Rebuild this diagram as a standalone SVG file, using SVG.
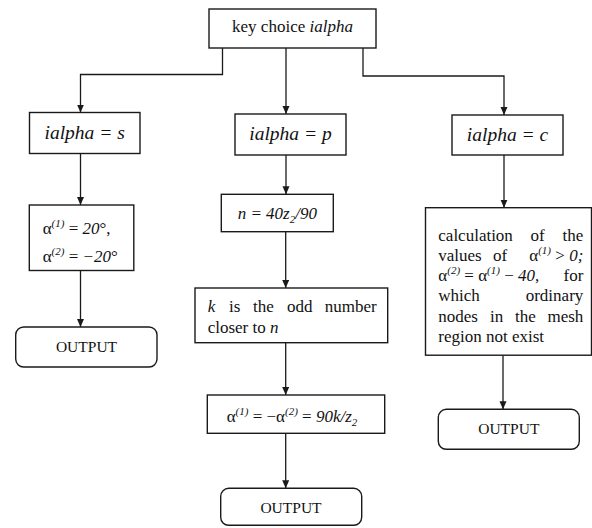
<svg xmlns="http://www.w3.org/2000/svg" width="592" height="528" viewBox="0 0 592 528">
<style>
.box{fill:#fff;stroke:#1a1a1a;stroke-width:1.4}
.ln{fill:none;stroke:#1a1a1a;stroke-width:1.3}
text{font-family:"Liberation Serif","Times New Roman",serif;fill:#111;font-size:17px}
.i{font-style:italic}
.c{text-anchor:middle}
.e{text-anchor:end}
.lab{font-size:19.5px;font-style:italic}
.out{font-size:15.5px}
.sup{font-size:11px;font-style:italic}
</style>
<defs>
<marker id="ah" markerUnits="userSpaceOnUse" markerWidth="8" markerHeight="8" refX="8" refY="3.5" orient="auto">
<path d="M0,0 L8,3.5 L0,7 z" fill="#1a1a1a"/>
</marker>
</defs>
<rect width="592" height="528" fill="#fff"/>
<g id="connectors">
<path class="ln" d="M222.5,48 V74.5 H80.5 V112.5" marker-end="url(#ah)"/>
<path class="ln" d="M286,48 V114" marker-end="url(#ah)"/>
<path class="ln" d="M363,48 V76 H504 V115" marker-end="url(#ah)"/>
<path class="ln" d="M80.5,153.5 V205" marker-end="url(#ah)"/>
<path class="ln" d="M80.5,270.5 V327" marker-end="url(#ah)"/>
<path class="ln" d="M286,155 V194.3" marker-end="url(#ah)"/>
<path class="ln" d="M285.7,231.7 V288" marker-end="url(#ah)"/>
<path class="ln" d="M285.7,342.7 V395" marker-end="url(#ah)"/>
<path class="ln" d="M285.7,433.3 V488.3" marker-end="url(#ah)"/>
<path class="ln" d="M504,155 V207.7" marker-end="url(#ah)"/>
<path class="ln" d="M503,355.2 V409.3" marker-end="url(#ah)"/>
</g>
<g id="key">
<rect class="box" x="209" y="9" width="167" height="39"/>
<text class="c" x="292.5" y="32">key choice <tspan class="i">ialpha</tspan></text>
</g>
<g id="s">
<rect class="box" x="29.5" y="112.5" width="110.5" height="41"/>
<text class="c lab" x="84.7" y="139">ialpha = s</text>
</g>
<g id="p">
<rect class="box" x="235" y="114" width="111" height="41"/>
<text class="c lab" x="290.5" y="140">ialpha = p</text>
</g>
<g id="cc">
<rect class="box" x="452" y="115" width="111" height="40"/>
<text class="c lab" x="507.5" y="141">ialpha = c</text>
</g>
<g id="s-alpha">
<rect class="box" x="29.3" y="205" width="104.5" height="65.5"/>
<text x="42.7" y="234">α<tspan class="sup" dy="-7">(1)</tspan><tspan dy="7"> = </tspan><tspan class="i">20</tspan>°,</text>
<text x="42.7" y="261.5">α<tspan class="sup" dy="-7">(2)</tspan><tspan dy="7"> = </tspan><tspan class="i">−20</tspan>°</text>
</g>
<g id="s-out">
<rect class="box" x="15.7" y="327" width="141.3" height="40" rx="8"/>
<text class="c out" x="86.5" y="351.5">OUTPUT</text>
</g>
<g id="n">
<rect class="box" x="221.3" y="194.3" width="112" height="37.4"/>
<text class="c i" x="277.3" y="219.3">n = 40z<tspan class="sup" dy="4">2</tspan><tspan dy="-4">/90</tspan></text>
</g>
<g id="k">
<rect class="box" x="195" y="288" width="192.7" height="54.7"/>
<text x="207.7" y="311.7" class="i">k</text>
<text x="229" y="311.7">is</text>
<text x="253" y="311.7">the</text>
<text x="287" y="311.7">odd</text>
<text x="376.7" y="311.7" class="e">number</text>
<text x="207.7" y="332.7">closer to <tspan class="i">n</tspan></text>
</g>
<g id="p-alpha">
<rect class="box" x="207.3" y="395" width="177.4" height="38.3"/>
<text class="c" x="292" y="421.7">α<tspan class="sup" dy="-7">(1)</tspan><tspan dy="7"> = −α</tspan><tspan class="sup" dy="-7">(2)</tspan><tspan dy="7"> = </tspan><tspan class="i">90k/z</tspan><tspan class="sup" dy="4">2</tspan></text>
</g>
<g id="p-out">
<rect class="box" x="220.7" y="488.3" width="141" height="37" rx="8"/>
<text class="c out" x="291" y="512.7">OUTPUT</text>
</g>
<g id="c-calc">
<rect class="box" x="425.5" y="207.7" width="166" height="147.5"/>
<text x="438.3" y="240.7">calculation</text>
<text x="530.5" y="240.7">of</text>
<text x="583.3" y="240.7" class="e">the</text>
<text x="438.3" y="261">values</text>
<text x="493" y="261">of</text>
<text x="583.3" y="261" class="e">α<tspan class="sup" dy="-7">(1)</tspan><tspan dy="7"> &gt; </tspan><tspan class="i">0;</tspan></text>
<text x="438.3" y="281">α<tspan class="sup" dy="-7">(2)</tspan><tspan dy="7"> = α</tspan><tspan class="sup" dy="-7">(1)</tspan><tspan dy="7"> − </tspan><tspan class="i">40</tspan>,</text>
<text x="583.3" y="281" class="e">for</text>
<text x="438.3" y="301">which</text>
<text x="583.3" y="301" class="e">ordinary</text>
<text x="438.3" y="321.7">nodes</text>
<text x="490" y="321.7">in</text>
<text x="515" y="321.7">the</text>
<text x="583.3" y="321.7" class="e">mesh</text>
<text x="438.3" y="342">region not exist</text>
</g>
<g id="c-out">
<rect class="box" x="438.3" y="409.3" width="141" height="40" rx="8"/>
<text class="c out" x="508.8" y="433.5">OUTPUT</text>
</g>
</svg>
